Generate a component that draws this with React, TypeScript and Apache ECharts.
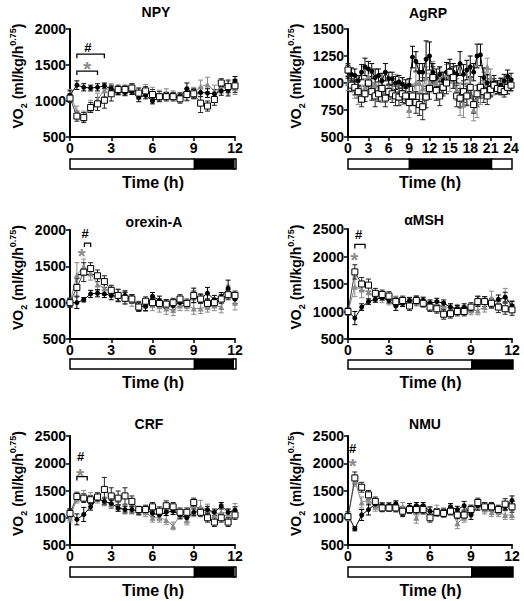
import React, { useEffect, useRef } from 'react';
import * as echarts from 'echarts';

const FONT = "'Liberation Sans', Arial, Helvetica, sans-serif";
const BLACK = '#000000';
const GREY = '#8a8a8a';

// time points (h)
const T12 = [0, 0.5, 1, 1.5, 2, 2.5, 3, 3.5, 4, 4.5, 5, 5.5, 6, 6.5, 7, 7.5, 8, 8.5, 9, 9.5, 10, 10.5, 11, 11.5, 12];
const T24 = [0, 0.5, 1, 1.5, 2, 2.5, 3, 3.5, 4, 4.5, 5, 5.5, 6, 6.5, 7, 7.5, 8, 8.5, 9, 9.5,
  10, 10.5, 11, 11.5, 12, 12.5, 13, 13.5, 14, 14.5, 15, 15.5, 16, 16.5, 17, 17.5, 18, 18.5, 19, 19.5,
  20, 20.5, 21, 21.5, 22, 22.5, 23, 23.5, 24];

// ---- NPY ----
const NPY_black = [1080, 1220, 1190, 1180, 1190, 1210, 1170, 1130, 1120, 1130, 1050, 1080, 1000, 1050, 1080, 1070, 1060, 1170, 1100, 1120, 1110, 1100, 1140, 1150, 1280];
const NPY_blackErr = [60, 60, 50, 40, 50, 40, 50, 40, 40, 40, 60, 50, 40, 50, 40, 40, 50, 80, 60, 60, 60, 60, 60, 80, 60];
const NPY_white = [1040, 790, 770, 910, 960, 1010, 1100, 1160, 1160, 1180, 1110, 1140, 1090, 1060, 1060, 1060, 1030, 1090, 1100, 970, 930, 1020, 1250, 1200, 1210];
const NPY_whiteErr = [60, 70, 70, 70, 90, 110, 100, 60, 60, 60, 70, 60, 70, 70, 60, 60, 60, 80, 70, 130, 70, 80, 60, 80, 90];
const NPY_grey = [1100, 850, 790, 930, 1020, 1150, 1180, 1140, 1130, 1170, 1100, 1150, 1120, 1090, 1100, 1080, 1060, 1080, 1120, 1200, 1230, 1140, 1180, 1200, 1180];
const NPY_greyErr = [60, 80, 70, 80, 90, 90, 60, 60, 60, 70, 80, 80, 70, 60, 70, 60, 60, 80, 70, 90, 100, 80, 70, 100, 90];
const NPY_ld = [[0, 9, 0], [9, 11.85, 1], [11.85, 12, 0]];
const NPY_brackets = [[0.5, 2.5, 1650], [0.5, 2.0, 1415]];
const NPY_marks = [{ x: 1.3, y: 1745, text: '#', grey: false }, { x: 1.25, y: 1500, text: '*', grey: true }];

// ---- AgRP ----
const AGRP_black = [1105, 1080, 1070, 1020, 1100, 1150, 1130, 1110, 1050, 1070,
  1020, 1100, 1040, 1040, 1000, 1010, 990, 970, 980, 1240,
  1200, 1100, 1100, 1220, 1250, 1100, 1050, 1080, 1020, 1100,
  1120, 1100, 1080, 1180, 1080, 1120, 1150, 1100, 1250, 1260,
  1050, 1000, 960, 1000, 960, 980, 1020, 1060, 1030];
const AGRP_blackErr = [60, 60, 60, 50, 70, 80, 70, 70, 80, 60,
  70, 80, 60, 60, 60, 60, 60, 60, 60, 100,
  90, 80, 80, 170, 130, 80, 80, 70, 80, 90,
  100, 80, 80, 110, 90, 90, 100, 80, 110, 100,
  90, 80, 80, 70, 60, 60, 60, 60, 60];
const AGRP_white = [1120, 980, 960, 920, 850, 900, 1000, 920, 880, 900,
  950, 860, 920, 900, 880, 870, 900, 880, 820, 880,
  820, 800, 780, 870, 950, 1050, 930, 880, 960, 1000,
  1100, 1050, 880, 860, 920, 880, 960, 800, 900, 960,
  920, 880, 940, 980, 950, 940, 920, 960, 980];
const AGRP_whiteErr = [60, 60, 70, 60, 70, 70, 60, 80, 100, 70,
  70, 80, 70, 80, 90, 80, 80, 70, 80, 90,
  100, 100, 120, 100, 100, 100, 90, 90, 80, 100,
  80, 100, 100, 90, 100, 90, 100, 80, 80, 100,
  100, 80, 70, 60, 50, 50, 50, 60, 50];
const AGRP_grey = [1000, 990, 940, 880, 900, 960, 1060, 1000, 980, 920,
  900, 900, 960, 950, 1000, 920, 880, 920, 750, 900,
  1000, 1000, 950, 1050, 1000, 1100, 1000, 1050, 1000, 1080,
  1020, 1050, 940, 850, 800, 900, 1050, 750, 800, 900,
  1000, 1150, 1050, 950, 960, 990, 970, 960, 980];
const AGRP_greyErr = [70, 70, 80, 80, 80, 80, 80, 90, 80, 80,
  80, 80, 90, 90, 80, 80, 80, 80, 70, 90,
  100, 90, 100, 100, 90, 100, 100, 90, 100, 90,
  100, 100, 100, 150, 120, 100, 100, 100, 120, 100,
  100, 80, 80, 60, 60, 60, 60, 60, 60];
const AGRP_ld = [[0, 9, 0], [9, 21, 1], [21, 24, 0]];
const AGRP_brackets: number[][] = [];
const AGRP_marks: { x: number; y: number; text: string; grey: boolean }[] = [];

// ---- orexin-A ----
const OREX_black = [1000, 1000, 1040, 1120, 1130, 1120, 1100, 1080, 1100, 1050, 950, 950, 1090, 1030, 980, 960, 1000, 980, 1100, 1060, 1130, 1040, 1080, 1200, 1050];
const OREX_blackErr = [60, 80, 30, 50, 50, 50, 60, 60, 60, 60, 60, 60, 50, 60, 60, 60, 50, 50, 100, 60, 80, 60, 60, 110, 60];
const OREX_white = [1000, 1210, 1420, 1470, 1370, 1290, 1170, 1100, 1060, 1050, 940, 1020, 1000, 990, 980, 1000, 1050, 990, 1100, 1050, 990, 1000, 1050, 1110, 1100];
const OREX_whiteErr = [60, 120, 130, 80, 80, 80, 70, 80, 80, 60, 60, 60, 60, 60, 60, 60, 60, 60, 60, 60, 60, 60, 60, 70, 60];
const OREX_grey = [1000, 1380, 1500, 1400, 1250, 1200, 1150, 1100, 1080, 1030, 950, 960, 970, 950, 920, 900, 960, 960, 920, 920, 940, 960, 940, 1150, 1000];
const OREX_greyErr = [60, 170, 100, 90, 80, 100, 80, 90, 90, 80, 70, 80, 80, 80, 80, 80, 70, 70, 80, 70, 70, 70, 80, 90, 100];
const OREX_ld = [[0, 9, 0], [9, 11.8, 1], [11.8, 12, 0]];
const OREX_brackets = [[0.5, 2.0, 1385], [1.05, 1.5, 1820]];
const OREX_marks = [{ x: 1.1, y: 1955, text: '#', grey: false }, { x: 0.85, y: 1700, text: '*', grey: true }];

// ---- alpha-MSH ----
const AMSH_black = [1000, 880, 1080, 1180, 1220, 1250, 1200, 1100, 1150, 1200, 1220, 1200, 1150, 1180, 1150, 1080, 1050, 1080, 1050, 1200, 1200, 1150, 1220, 1260, 1100];
const AMSH_blackErr = [60, 120, 60, 50, 50, 50, 50, 80, 60, 50, 60, 60, 60, 60, 60, 60, 60, 60, 60, 80, 70, 70, 80, 90, 80];
const AMSH_white = [1000, 1720, 1500, 1480, 1330, 1310, 1280, 1180, 1200, 1100, 1200, 1150, 1080, 1050, 950, 960, 1000, 1000, 1080, 1180, 1180, 1150, 1080, 1050, 1030];
const AMSH_whiteErr = [60, 130, 120, 110, 90, 80, 80, 80, 80, 80, 80, 70, 80, 80, 90, 80, 80, 80, 80, 90, 90, 90, 100, 100, 100];
const AMSH_grey = [1000, 1450, 1400, 1350, 1270, 1250, 1200, 1200, 1180, 1180, 1180, 1170, 1120, 1120, 1100, 1060, 1050, 1020, 1020, 1020, 1080, 1250, 1150, 1300, 1100];
const AMSH_greyErr = [60, 180, 150, 120, 100, 90, 80, 80, 80, 80, 80, 80, 70, 80, 80, 80, 80, 80, 80, 80, 90, 120, 90, 120, 100];
const AMSH_ld = [[0, 9, 0], [9, 12, 1]];
const AMSH_brackets = [[0.5, 1.25, 2220]];
const AMSH_marks = [{ x: 0.78, y: 2400, text: '#', grey: false }, { x: 0.46, y: 2010, text: '*', grey: true }];

// ---- CRF ----
const CRF_black = [1100, 970, 1060, 1200, 1350, 1300, 1260, 1180, 1150, 1150, 1120, 1150, 1080, 1050, 1100, 1120, 1050, 1000, 1100, 1120, 1150, 1100, 1220, 1100, 1140];
const CRF_blackErr = [60, 100, 130, 60, 50, 60, 60, 60, 60, 60, 60, 60, 60, 80, 60, 60, 60, 80, 60, 60, 60, 60, 60, 60, 60];
const CRF_white = [1080, 1390, 1360, 1330, 1380, 1520, 1400, 1360, 1400, 1300, 1150, 1150, 1200, 1120, 1220, 1200, 1100, 1100, 1280, 1100, 1000, 920, 1000, 920, 1050];
const CRF_whiteErr = [80, 80, 80, 80, 80, 220, 150, 130, 150, 100, 60, 80, 80, 80, 90, 80, 80, 80, 80, 80, 80, 80, 80, 80, 80];
const CRF_grey = [1000, 1350, 1400, 1380, 1350, 1300, 1250, 1200, 1150, 1150, 1120, 1100, 1000, 1000, 960, 850, 1050, 950, 1100, 1200, 1150, 1050, 1100, 1080, 1160];
const CRF_greyErr = [80, 80, 100, 80, 80, 80, 80, 80, 80, 80, 80, 80, 80, 80, 80, 70, 80, 80, 80, 120, 100, 80, 80, 80, 100];
const CRF_ld = [[0, 9, 0], [9, 11.85, 1], [11.85, 12, 0]];
const CRF_brackets = [[0.5, 1.25, 1755]];
const CRF_marks = [{ x: 0.78, y: 2120, text: '#', grey: false }, { x: 0.73, y: 1840, text: '*', grey: true }];

// ---- NMU ----
const NMU_black = [1050, 800, 1050, 1150, 1250, 1220, 1220, 1260, 1100, 1200, 1220, 1220, 1120, 1100, 1100, 1200, 1150, 1220, 1050, 1220, 1200, 1200, 1150, 1200, 1320];
const NMU_blackErr = [60, 40, 100, 100, 60, 50, 50, 50, 80, 60, 60, 60, 80, 60, 60, 60, 60, 80, 80, 80, 80, 60, 60, 60, 80];
const NMU_white = [1020, 1730, 1560, 1420, 1300, 1180, 1180, 1180, 1120, 1150, 1150, 1150, 1000, 1100, 1080, 1120, 1050, 1050, 1150, 1280, 1200, 1200, 1150, 1250, 1200];
const NMU_whiteErr = [60, 110, 90, 80, 80, 70, 60, 60, 80, 70, 80, 80, 80, 70, 70, 70, 70, 70, 80, 80, 80, 80, 80, 100, 100];
const NMU_grey = [1000, 1680, 1280, 1330, 1200, 1200, 1200, 1180, 1200, 1180, 1000, 1150, 1100, 1150, 1100, 1150, 900, 1000, 1150, 1220, 1150, 1100, 1100, 1050, 1050];
const NMU_greyErr = [60, 100, 100, 100, 80, 80, 80, 80, 80, 80, 100, 80, 80, 80, 80, 80, 100, 80, 80, 80, 80, 80, 80, 80, 80];
const NMU_ld = [[0, 9, 0], [9, 12, 1]];
const NMU_brackets: number[][] = [];
const NMU_marks = [{ x: 0.34, y: 2270, text: '#', grey: false }, { x: 0.34, y: 2030, text: '*', grey: true }];

const PANELS = [
  { title: 'NPY', cx: 156, cy: 12, left: 70, top: 29, width: 165, height: 108, barTop: 159, barH: 10, yMin: 500, yMax: 2000, yInt: 500, xMax: 12, t: T12,
    black: NPY_black, blackErr: NPY_blackErr, white: NPY_white, whiteErr: NPY_whiteErr, grey: NPY_grey, greyErr: NPY_greyErr, ld: NPY_ld, brackets: NPY_brackets, marks: NPY_marks },
  { title: 'AgRP', cx: 428, cy: 13, left: 348, top: 29, width: 163, height: 108, barTop: 159, barH: 10, yMin: 500, yMax: 1500, yInt: 250, xMax: 24, t: T24,
    black: AGRP_black, blackErr: AGRP_blackErr, white: AGRP_white, whiteErr: AGRP_whiteErr, grey: AGRP_grey, greyErr: AGRP_greyErr, ld: AGRP_ld, brackets: AGRP_brackets, marks: AGRP_marks },
  { title: 'orexin-A', cx: 154, cy: 222, left: 70, top: 230, width: 165, height: 109, barTop: 359, barH: 10, yMin: 500, yMax: 2000, yInt: 500, xMax: 12, t: T12,
    black: OREX_black, blackErr: OREX_blackErr, white: OREX_white, whiteErr: OREX_whiteErr, grey: OREX_grey, greyErr: OREX_greyErr, ld: OREX_ld, brackets: OREX_brackets, marks: OREX_marks },
  { title: 'αMSH', cx: 424, cy: 220, left: 348, top: 229, width: 164, height: 110, barTop: 360, barH: 9, yMin: 500, yMax: 2500, yInt: 500, xMax: 12, t: T12,
    black: AMSH_black, blackErr: AMSH_blackErr, white: AMSH_white, whiteErr: AMSH_whiteErr, grey: AMSH_grey, greyErr: AMSH_greyErr, ld: AMSH_ld, brackets: AMSH_brackets, marks: AMSH_marks },
  { title: 'CRF', cx: 149, cy: 424, left: 70, top: 436, width: 165, height: 109, barTop: 567, barH: 10, yMin: 500, yMax: 2500, yInt: 500, xMax: 12, t: T12,
    black: CRF_black, blackErr: CRF_blackErr, white: CRF_white, whiteErr: CRF_whiteErr, grey: CRF_grey, greyErr: CRF_greyErr, ld: CRF_ld, brackets: CRF_brackets, marks: CRF_marks },
  { title: 'NMU', cx: 425, cy: 424, left: 348, top: 436, width: 164, height: 109, barTop: 567, barH: 10, yMin: 500, yMax: 2500, yInt: 500, xMax: 12, t: T12,
    black: NMU_black, blackErr: NMU_blackErr, white: NMU_white, whiteErr: NMU_whiteErr, grey: NMU_grey, greyErr: NMU_greyErr, ld: NMU_ld, brackets: NMU_brackets, marks: NMU_marks },
];

function errRender(color: string) {
  return (params: any, api: any) => {
    const x = api.value(0), y = api.value(1), e = api.value(2);
    const p1 = api.coord([x, y + e]);
    const p2 = api.coord([x, y - e]);
    const w = 2.5;
    const style = { stroke: color, lineWidth: 1 };
    return {
      type: 'group',
      children: [
        { type: 'line', shape: { x1: p1[0], y1: p1[1], x2: p2[0], y2: p2[1] }, style },
        { type: 'line', shape: { x1: p1[0] - w, y1: p1[1], x2: p1[0] + w, y2: p1[1] }, style },
        { type: 'line', shape: { x1: p2[0] - w, y1: p2[1], x2: p2[0] + w, y2: p2[1] }, style },
      ],
    };
  };
}

function buildOption() {
  const grid: any[] = [];
  const xAxis: any[] = [];
  const yAxis: any[] = [];
  const series: any[] = [];
  const graphic: any[] = [];
  const n = PANELS.length;
  const tickLabel = { color: BLACK, fontSize: 14, fontWeight: 'bold', fontFamily: FONT, formatter: (v: number) => String(v) };
  const axisLine = { onZero: false, lineStyle: { color: BLACK, width: 2 } };
  const axisTick = { length: 4, lineStyle: { color: BLACK, width: 1.5 } };

  PANELS.forEach((p, i) => {
    grid.push({ left: p.left, top: p.top, width: p.width, height: p.height, containLabel: false });
    xAxis.push({
      gridIndex: i, type: 'value', min: 0, max: p.xMax, interval: 3,
      axisLine, axisTick, axisLabel: { ...tickLabel, margin: 4 }, splitLine: { show: false },
    });
    yAxis.push({
      gridIndex: i, type: 'value', min: p.yMin, max: p.yMax, interval: p.yInt,
      axisLine: { show: true, ...axisLine }, axisTick: { show: true, ...axisTick }, axisLabel: { ...tickLabel, margin: 4 }, splitLine: { show: false },
      name: '{m|VO}{s|2}{m| (ml/kg/h}{p|0.75}{m|)}',
      nameLocation: 'middle', nameGap: 42,
      nameTextStyle: {
        padding: [0, 0, 0, 14],
        rich: {
          m: { fontSize: 14, fontWeight: 'bold', fontFamily: FONT, color: BLACK, lineHeight: 20 },
          s: { fontSize: 9, fontWeight: 'bold', fontFamily: FONT, color: BLACK, verticalAlign: 'bottom', lineHeight: 10 },
          p: { fontSize: 9, fontWeight: 'bold', fontFamily: FONT, color: BLACK, verticalAlign: 'top', lineHeight: 10 },
        },
      },
    });

    const mk = (vals: number[], errs: number[]) => p.t.map((x, j) => [x, vals[j], errs[j]]);
    const common = { xAxisIndex: i, yAxisIndex: i, silent: true };

    // grey
    series.push({ ...common, type: 'custom', renderItem: errRender(GREY), encode: { x: 0, y: 1 }, data: mk(p.grey, p.greyErr) });
    series.push({ ...common, type: 'line', data: p.t.map((x, j) => [x, p.grey[j]]), symbol: 'triangle', symbolSize: 6, showAllSymbol: true,
      lineStyle: { color: GREY, width: 1 }, itemStyle: { color: GREY } });
    // black
    series.push({ ...common, type: 'custom', renderItem: errRender(BLACK), encode: { x: 0, y: 1 }, data: mk(p.black, p.blackErr) });
    series.push({ ...common, type: 'line', data: p.t.map((x, j) => [x, p.black[j]]), symbol: 'circle', symbolSize: 5, showAllSymbol: true,
      lineStyle: { color: BLACK, width: 1 }, itemStyle: { color: BLACK } });
    // white squares
    series.push({ ...common, type: 'custom', renderItem: errRender('#222'), encode: { x: 0, y: 1 }, data: mk(p.white, p.whiteErr) });
    series.push({ ...common, type: 'line', data: p.t.map((x, j) => [x, p.white[j]]), symbol: 'rect', symbolSize: 6, showAllSymbol: true,
      lineStyle: { color: '#444', width: 1 }, itemStyle: { color: '#fff', borderColor: BLACK, borderWidth: 1 } });

    // brackets
    if (p.brackets.length) {
      series.push({
        ...common, type: 'custom', encode: { x: [0, 1], y: 2 }, data: p.brackets,
        renderItem: (params: any, api: any) => {
          const a = api.coord([api.value(0), api.value(2)]);
          const b = api.coord([api.value(1), api.value(2)]);
          return {
            type: 'polyline',
            shape: { points: [[a[0], a[1] + 4], [a[0], a[1]], [b[0], b[1]], [b[0], b[1] + 4]] },
            style: { stroke: BLACK, lineWidth: 1.3, fill: null },
          };
        },
      });
    }
    // significance marks
    if (p.marks.length) {
      const marks = p.marks;
      series.push({
        ...common, type: 'custom', encode: { x: 0, y: 1 }, data: marks.map((m) => [m.x, m.y]),
        renderItem: (params: any, api: any) => {
          const m = marks[params.dataIndex];
          const c = api.coord([api.value(0), api.value(1)]);
          const star = m.text === '*';
          const fs = star ? 20 : 13;
          return {
            type: 'text',
            x: c[0], y: c[1] + (star ? 4 : 0),
            style: {
              text: m.text, fill: m.grey ? GREY : BLACK,
              font: `bold ${fs}px ${FONT}`,
              align: 'center', verticalAlign: 'middle', textAlign: 'center', textVerticalAlign: 'middle',
            },
          };
        },
      });
    }

    graphic.push({
      type: 'text', x: p.cx, y: p.cy, silent: true,
      style: { text: p.title, fill: BLACK, font: `bold 14px ${FONT}`, align: 'center', verticalAlign: 'middle', textAlign: 'center', textVerticalAlign: 'middle' },
    });
  });

  // light/dark bars
  PANELS.forEach((p, i) => {
    const gi = n + i;
    grid.push({ left: p.left, top: p.barTop, width: p.width + 1, height: p.barH, containLabel: false });
    xAxis.push({
      gridIndex: gi, type: 'value', min: 0, max: p.xMax, show: true,
      axisLine: { show: false }, axisTick: { show: false }, axisLabel: { show: false }, splitLine: { show: false },
      name: 'Time (h)', nameLocation: 'middle', nameGap: 5,
      nameTextStyle: { color: BLACK, fontSize: 16, fontWeight: 'bold', fontFamily: FONT },
    });
    yAxis.push({ gridIndex: gi, type: 'value', min: 0, max: 1, show: false });
    series.push({
      xAxisIndex: gi, yAxisIndex: gi, type: 'custom', silent: true, encode: { x: [0, 1] }, data: p.ld,
      renderItem: (params: any, api: any) => {
        const a = api.coord([api.value(0), 1]);
        const b = api.coord([api.value(1), 0]);
        return {
          type: 'rect',
          shape: { x: a[0], y: a[1], width: b[0] - a[0], height: b[1] - a[1] },
          style: { fill: api.value(2) ? BLACK : '#fff', stroke: BLACK, lineWidth: 1.5 },
        };
      },
    });
  });

  return {
    animation: false,
    backgroundColor: '#fff',
    textStyle: { fontFamily: FONT },
    grid, xAxis, yAxis, series, graphic,
  };
}

export default function App() {
  const ref = useRef<HTMLDivElement>(null);
  useEffect(() => {
    if (!ref.current) return;
    const chart = echarts.init(ref.current, null, { renderer: 'svg' });
    chart.setOption(buildOption() as any);
    return () => chart.dispose();
  }, []);
  return <div ref={ref} style={{ position: 'fixed', left: 0, top: 0, width: 524, height: 601, background: '#fff' }} />;
}
